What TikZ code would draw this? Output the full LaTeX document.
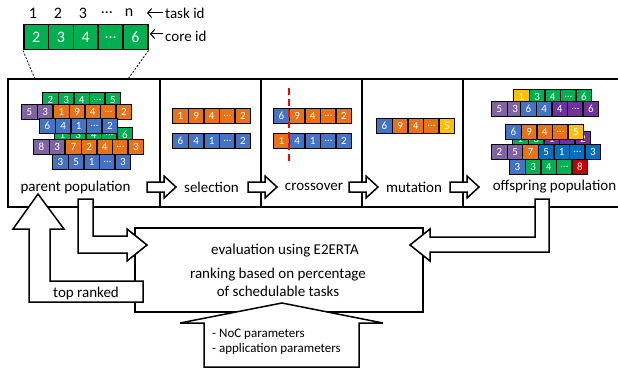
\documentclass[tikz,border=0pt]{standalone}
\usepackage{fontspec}
\setmainfont{Carlito}
\usetikzlibrary{arrows.meta}

\definecolor{gagreen}{RGB}{0,176,80}
\definecolor{gaorange}{RGB}{232,114,24}
\definecolor{gablue}{RGB}{68,114,196}
\definecolor{gabrightblue}{RGB}{0,112,192}
\definecolor{gapurple}{RGB}{128,100,162}
\definecolor{gadarkpurple}{RGB}{112,48,160}
\definecolor{gayellow}{RGB}{255,192,0}
\definecolor{gared}{RGB}{192,0,0}

\tikzset{
  gene/.style={draw=black, line width=1.4pt, minimum width=15.6pt, minimum height=14.5pt,
    inner sep=0pt, text=white, font=\fontsize{11}{11}\selectfont, anchor=north west},
  hdrcell/.style={draw=black, line width=1.5pt, fill=gagreen, minimum width=24.8pt,
    minimum height=25pt, inner sep=0pt, text=white, font=\fontsize{16}{16}\selectfont, anchor=north west},
  hdrtxt/.style={inner sep=0pt, font=\fontsize{16}{16}\selectfont},
  lbl/.style={inner sep=1pt, font=\fontsize{15}{18}\selectfont},
  smalllbl/.style={inner sep=1pt, font=\fontsize{13}{15.5}\selectfont, align=left, anchor=west},
  panel/.style={line width=1.5pt},
  blockarrow/.style={draw=black, fill=white, line width=1.5pt, line join=miter},
  pointer/.style={line width=1pt, -{Straight Barb[length=4pt,width=9pt]}},
  zoomline/.style={line width=0.8pt, dash pattern=on 2pt off 1.6pt},
  cutline/.style={draw=red, line width=2.6pt, dash pattern=on 7pt off 4pt}
}

% one chromosome: name, left x, top y, list of colour/label pairs
\newcommand\genome[4]{%
  \foreach [count=\k] \c/\t in {#4}{%
    \node[gene, fill=\c] (#1-\k) at ({#2+(\k-1)*15.6},#3) {\t};}}

\begin{document}
\begin{tikzpicture}[x=1pt,y=-1pt]
\useasboundingbox (0,0) rectangle (618,369);

% ---------- encoding header ----------
\foreach [count=\k] \t in {2,3,4,…,6}{
  \node[hdrcell] (core-\k) at ({23+(\k-1)*24.8},24) {\t};}
\foreach [count=\k] \t/\x in {1/33,2/58,3/83,…/107,n/129}{
  \node[hdrtxt] (task-\k) at (\x,13) {\t};}
\node[lbl, anchor=west, inner sep=2pt] (tid) at (163,13) {task id};
\node[lbl, anchor=west, inner sep=2pt] (cid) at (163,36) {core id};
\coordinate (tidtip) at (147,13);
\coordinate (cidtip) at (150,34);
\draw[pointer] (tid.west) -- (tidtip);
\draw[pointer] (cid.west |- cidtip) -- (cidtip);

% ---------- stage panels ----------
\draw[panel] (618,79) -- (8,79) -- (8,207) -- (618,207);
\foreach \d in {160,261,362,463}{\draw[panel] (\d,79) -- (\d,207);}

\coordinate (zoomL) at (35,79);
\coordinate (zoomR) at (128,79);
\draw[zoomline] (core-1.south west) -- (zoomL);
\draw[zoomline] (core-5.south east) -- (zoomR);

% parent population (rows further back are partly covered)
\genome{pa}{42}{92}{gagreen/2,gagreen/3,gagreen/4,gagreen/…,gagreen/5}
\genome{pb}{21}{104}{gapurple/5,gapurple/3,gapurple/,gapurple/,gapurple/}
\genome{pc}{53}{104}{gaorange/1,gaorange/9,gaorange/4,gaorange/…,gaorange/2}
\genome{pe}{54}{127}{gagreen/1,gagreen/3,gagreen/4,gagreen/…,gagreen/6}
\genome{pd}{39}{118}{gablue/6,gablue/4,gablue/1,gablue/…,gablue/2}
\genome{pf}{33}{139}{gapurple/8,gapurple/3,gapurple/,gapurple/,gapurple/}
\genome{pg}{65}{139}{gaorange/7,gaorange/2,gaorange/4,gaorange/…,gaorange/3}
\genome{ph}{52}{154}{gablue/3,gablue/5,gablue/1,gablue/…,gablue/3}

% selection
\genome{sa}{172}{108}{gaorange/1,gaorange/9,gaorange/4,gaorange/…,gaorange/2}
\genome{sb}{172}{133}{gablue/6,gablue/4,gablue/1,gablue/…,gablue/2}

% crossover
\genome{xa}{273}{108}{gablue/6,gaorange/9,gaorange/4,gaorange/…,gaorange/2}
\genome{xb}{273}{133}{gaorange/1,gablue/4,gablue/1,gablue/…,gablue/2}
\draw[cutline] (289,88) -- (289,165);

% mutation
\genome{ma}{376}{118}{gablue/6,gaorange/9,gaorange/4,gaorange/…,gayellow/5}

% offspring population
\genome{oa}{513}{89}{gayellow/1,gagreen/3,gagreen/4,gagreen/…,gagreen/6}
\genome{ob}{491}{101}{gapurple/5,gapurple/3,gapurple/,gapurple/,gapurple/}
\genome{oc}{520}{101}{gablue/6,gablue/4,gadarkpurple/4,gadarkpurple/…,gadarkpurple/6}
\genome{oe}{512}{131}{gagreen/1,gagreen/3,gadarkpurple/1,gadarkpurple/…,gadarkpurple/2}
\genome{od}{505}{124}{gablue/6,gaorange/9,gaorange/4,gaorange/…,gayellow/5}
\genome{of}{491}{144}{gapurple/2,gapurple/5,gapurple/,gapurple/,gapurple/}
\genome{og}{522}{144}{gaorange/7,gabrightblue/5,gabrightblue/1,gabrightblue/…,gabrightblue/3}
\genome{oh}{509}{159}{gablue/3,gagreen/3,gagreen/4,gagreen/…,gared/8}

% stage-to-stage arrows
\foreach \d in {160,261,362,463}{
  \draw[blockarrow] ({\d-13},182) -- ({\d+4},182) -- ({\d+4},176) -- ({\d+16},187)
    -- ({\d+4},198) -- ({\d+4},192) -- ({\d-13},192) -- cycle;}

% stage labels
\node[lbl] (lparent) at (75.5,187) {parent population};
\node[lbl] (lsel) at (211.5,187) {selection};
\node[lbl] (lcross) at (314,187) {crossover};
\node[lbl] (lmut) at (414,187) {mutation};
\node[lbl] (loff) at (554.5,187) {offspring population};

% ---------- evaluation ----------
\draw[blockarrow] (135,228) rectangle (423,312);
\node[lbl] (evaltxt) at (285,251) {evaluation using E2ERTA};
\node[lbl, align=center] (ranktxt) at (278,282) {ranking based on percentage\\of schedulable tasks};

% parent population into evaluation
\draw[blockarrow] (78,199) -- (93,199) -- (93,236) -- (127,236) -- (127,229) -- (147,245)
  -- (127,261) -- (127,253) -- (78,253) -- cycle;
% offspring population into evaluation
\draw[blockarrow] (535,199) -- (549,199) -- (549,252) -- (430,252) -- (430,261) -- (410,245)
  -- (430,229) -- (430,237) -- (535,237) -- cycle;
% top ranked back to parent population
\draw[blockarrow] (29,302) -- (29,229) -- (13,229) -- (38,194) -- (64,229) -- (50,229)
  -- (50,281) -- (143,281) -- (143,302) -- cycle;
\node[lbl] (ltop) at (86,293) {top ranked};
% parameters into evaluation
\draw[blockarrow] (204,367) -- (204,323) -- (180,323) -- (282,303) -- (383,323)
  -- (359,323) -- (359,367) -- cycle;
\node[smalllbl] (params) at (211,342) {- NoC parameters\\- application parameters};

\end{tikzpicture}
\end{document}
